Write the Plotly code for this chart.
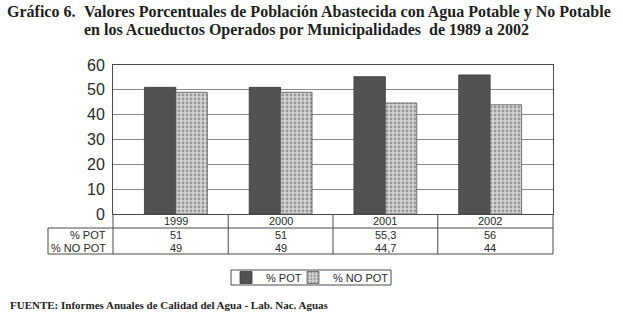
import plotly.graph_objects as go

years = ["1999", "2000", "2001", "2002"]
pot = [51, 51, 55.3, 56]
no_pot = [49, 49, 44.7, 44]
pot_labels = ["51", "51", "55,3", "56"]
no_pot_labels = ["49", "49", "44,7", "44"]
y_ticks = [0, 10, 20, 30, 40, 50, 60]

SANS = "Liberation Sans, Arial, sans-serif"
SERIF = "Liberation Serif, Times New Roman, serif"
TXT = "#2a2a2a"
LINE = "#4a4a4a"

W, H = 623, 316
PL, PR, PT, PB = 113, 553, 65, 214          # plot frame in pixels
PW, PH = PR - PL, PB - PT
L, T, R, B = PL, PT, W - PR, H - PB

def px_x(px):
    return (px - PL) / PW

def px_y(py):
    return (PB - py) / PH

fig = go.Figure()
fig.add_trace(go.Bar(
    x=years, y=pot, name="% POT", legend="legend",
    marker=dict(color="#525252", line=dict(color="#3a3a3a", width=0.8)),
))
fig.add_trace(go.Bar(
    x=years, y=no_pot, name="% NO POT", legend="legend2",
    marker=dict(color="#d6d6d6", line=dict(color="#555555", width=0.8),
                pattern=dict(shape=".", fgcolor="#555555", bgcolor="#d6d6d6",
                             size=4, solidity=0.4, fillmode="overlay")),
))

shapes = []
for yy in (228, 254):
    shapes.append(dict(type="line", xref="paper", yref="paper", x0=px_x(48), x1=1,
                       y0=px_y(yy), y1=px_y(yy), line=dict(color=LINE, width=1)))
shapes.append(dict(type="line", xref="paper", yref="paper", x0=px_x(48), x1=px_x(48),
                   y0=px_y(228), y1=px_y(254), line=dict(color=LINE, width=1)))
for xp in (0, 1):
    shapes.append(dict(type="line", xref="paper", yref="paper", x0=xp, x1=xp, y0=0,
                       y1=px_y(254), line=dict(color=LINE, width=1)))
for i in range(len(years) - 1):
    shapes.append(dict(type="line", xref="x", yref="paper", x0=i + 0.5, x1=i + 0.5, y0=0,
                       y1=px_y(254), line=dict(color=LINE, width=1)))
# legend frame
shapes.append(dict(type="rect", xref="paper", yref="paper", x0=px_x(231), x1=px_x(391),
                   y0=px_y(270), y1=px_y(285), line=dict(color=LINE, width=1)))

ann = []
for i, yr in enumerate(years):
    for txt, yy in ((yr, 221), (pot_labels[i], 235), (no_pot_labels[i], 248)):
        ann.append(dict(x=i, y=px_y(yy), xref="x", yref="paper", text=txt, showarrow=False,
                        font=dict(family=SANS, size=11, color=TXT), yanchor="middle"))
for txt, yy in (("% POT", 235), ("% NO POT", 248)):
    ann.append(dict(x=px_x(108), y=px_y(yy), xref="paper", yref="paper", text=txt, showarrow=False,
                    xanchor="right", yanchor="middle", font=dict(family=SANS, size=11, color=TXT)))

TF = dict(family=SERIF, size=16, color="#1e1e1e")
for txt, xx, yy, f in (
    ("<b>Gráfico 6.</b>", 5, 12, TF),
    ("<b>Valores Porcentuales de Población Abastecida con Agua Potable y No Potable</b>", 82, 12, TF),
    ("<b>en los Acueductos Operados por Municipalidades  de 1989 a 2002</b>", 82, 30, TF),
    ("<b>FUENTE: Informes Anuales de Calidad del Agua - Lab. Nac. Aguas</b>", 8, 305,
     dict(family=SERIF, size=11, color="#1e1e1e")),
):
    ann.append(dict(x=px_x(xx), y=px_y(yy), xref="paper", yref="paper", text=txt, showarrow=False,
                    xanchor="left", yanchor="middle", font=f))

LEG = dict(orientation="h", yanchor="middle", xanchor="left", borderwidth=0,
           bgcolor="rgba(0,0,0,0)", font=dict(family=SANS, size=11, color=TXT), itemwidth=30)

fig.update_layout(
    width=W, height=H,
    margin=dict(l=L, r=R, t=T, b=B, pad=0, autoexpand=False),
    paper_bgcolor="white", plot_bgcolor="white",
    barmode="group", bargap=0.4, bargroupgap=0,
    showlegend=True,
    legend=dict(LEG, x=px_x(226), y=px_y(277.5)),
    legend2=dict(LEG, x=px_x(293), y=px_y(277.5)),
    xaxis=dict(type="category", range=[-0.6, 3.6], showticklabels=False, showgrid=False,
               showline=True, linecolor=LINE, linewidth=1, mirror=True, ticks=""),
    yaxis=dict(range=[0, 60], tickvals=y_ticks, showgrid=True, gridcolor="#8a8a8a", gridwidth=1,
               showline=True, linecolor=LINE, linewidth=1, mirror=True, zeroline=False,
               ticks="outside", ticklen=4, tickcolor="rgba(0,0,0,0)",
               tickfont=dict(family=SANS, size=16, color=TXT)),
    shapes=shapes, annotations=ann,
)

fig.write_html("out.html", config={"displayModeBar": False},
               post_script="document.body.style.margin='0px';")
